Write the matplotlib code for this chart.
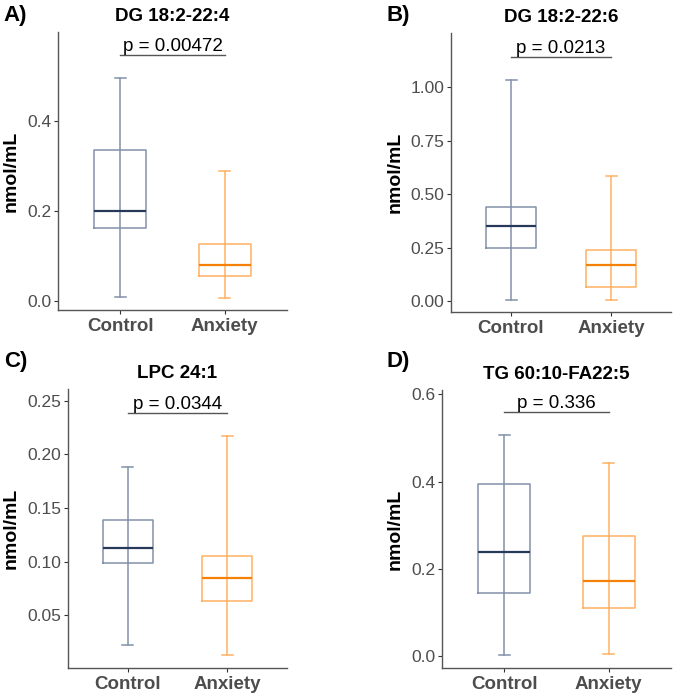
import matplotlib
matplotlib.use("Agg")
import matplotlib.pyplot as plt

plt.rcParams['font.family'] = ['Liberation Sans', 'DejaVu Sans']

groups = ["Control", "Anxiety"]
titles = ["DG 18:2-22:4", "DG 18:2-22:6", "LPC 24:1", "TG 60:10-FA22:5"]
panel_labels = ["A)", "B)", "C)", "D)"]
p_texts = ["p = 0.00472", "p = 0.0213", "p = 0.0344", "p = 0.336"]

# five-number summaries: [min, q1, median, q3, max]
ctrl_A = [0.009, 0.162, 0.201, 0.336, 0.496]
anx_A = [0.007, 0.056, 0.080, 0.127, 0.289]
ctrl_B = [0.005, 0.248, 0.352, 0.441, 1.034]
anx_B = [0.006, 0.067, 0.168, 0.240, 0.585]
ctrl_C = [0.0226, 0.099, 0.113, 0.139, 0.188]
anx_C = [0.013, 0.0634, 0.085, 0.105, 0.217]
ctrl_D = [0.002, 0.145, 0.238, 0.395, 0.507]
anx_D = [0.004, 0.110, 0.171, 0.2755, 0.443]

p_line_y = [0.547, 1.140, 0.239, 0.559]
ylims = [(-0.02, 0.598), (-0.051, 1.254), (0.001, 0.261), (-0.0276, 0.61)]
yticks = [[0.0, 0.2, 0.4], [0.0, 0.25, 0.5, 0.75, 1.0],
          [0.05, 0.10, 0.15, 0.20, 0.25], [0.0, 0.2, 0.4, 0.6]]
yticklabels = [["0.0", "0.2", "0.4"], ["0.00", "0.25", "0.50", "0.75", "1.00"],
               ["0.05", "0.10", "0.15", "0.20", "0.25"], ["0.0", "0.2", "0.4", "0.6"]]

data = [(ctrl_A, anx_A), (ctrl_B, anx_B), (ctrl_C, anx_C), (ctrl_D, anx_D)]

W, H = 675, 696
fig = plt.figure(figsize=(W / 100, H / 100), dpi=100)

# axes boxes in pixels: left, right, top, bottom
boxes_px = [(58, 287, 32, 310), (451, 671, 33, 312),
            (68, 287, 389, 668), (442, 671, 390, 668)]
label_px = [(3, 16), (386, 16), (4, 361), (387, 361)]

edge_cols = ["#8392aa", "#ffb163"]
med_cols = ["#27395a", "#f58207"]

for i in range(4):
    l, r, t, b = boxes_px[i]
    ax = fig.add_axes([l / W, 1 - b / H, (r - l) / W, (b - t) / H])
    stats = []
    for g, s in zip(groups, data[i]):
        stats.append(dict(label=g, whislo=s[0], q1=s[1], med=s[2], q3=s[3], whishi=s[4], fliers=[]))
    for j, st in enumerate(stats):
        pos = j + 1
        ax.bxp([st], positions=[pos], widths=0.5, showfliers=False,
               boxprops=dict(color=edge_cols[j], linewidth=1.1),
               whiskerprops=dict(color=edge_cols[j], linewidth=1.1),
               capprops=dict(color=edge_cols[j], linewidth=1.1),
               medianprops=dict(color=med_cols[j], linewidth=1.6),
               capwidths=0.11, manage_ticks=False)
        ax.vlines(pos, st['q1'], st['q3'], color=edge_cols[j], linewidth=1.1, zorder=1)
    ax.set_xlim(0.4, 2.6)
    ax.set_ylim(*ylims[i])
    ax.set_xticks([1, 2])
    ax.set_xticklabels(groups, fontsize=13.5, fontweight='bold', color='#4d4d4d')
    ax.set_yticks(yticks[i])
    ax.set_yticklabels(yticklabels[i], fontsize=12.5, color='#4d4d4d')
    ax.tick_params(axis='both', length=3, width=0.8, color='#333333', pad=2)
    ax.tick_params(axis='x', pad=3)
    for sp in ['top', 'right']:
        ax.spines[sp].set_visible(False)
    for sp in ['left', 'bottom']:
        ax.spines[sp].set_color('#555555')
        ax.spines[sp].set_linewidth(1.0)
    ax.set_ylabel("nmol/mL", fontsize=14, fontweight='bold', labelpad=5)
    ax.set_title(titles[i], fontsize=13.5, fontweight='bold', pad=8)
    # significance bar
    ax.plot([1, 2], [p_line_y[i], p_line_y[i]], color='#555555', linewidth=1.0)
    ax.text(1.5, p_line_y[i], p_texts[i], ha='center', va='bottom', fontsize=13.5)
    lx, ly = label_px[i]
    fig.text(lx / W, 1 - ly / H, panel_labels[i], fontsize=16, fontweight='bold', va='center', ha='left')

fig.savefig("out.png", dpi=100)
